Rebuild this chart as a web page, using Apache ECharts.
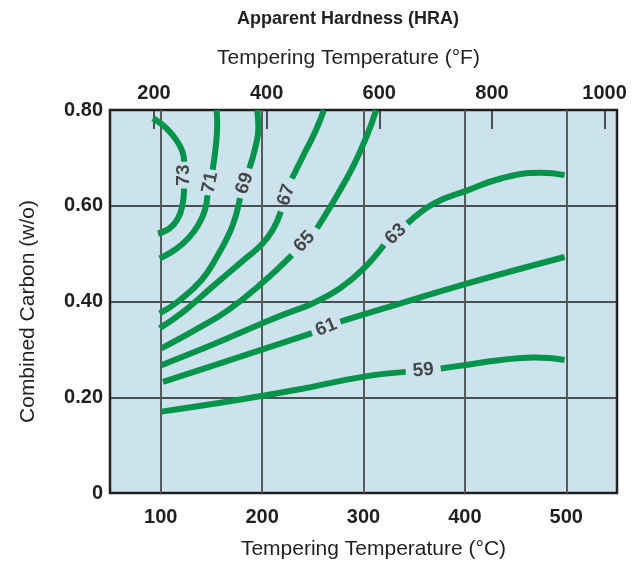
<!DOCTYPE html>
<html><head><meta charset="utf-8">
<script src="https://cdn.jsdelivr.net/npm/echarts@6/dist/echarts.min.js"></script>
<style>html,body{margin:0;padding:0;background:#fff}#c{width:640px;height:566px}</style>
</head><body><div id="c"></div>
<script>
// ---- data ----
const celsiusTicks = [100, 200, 300, 400, 500];
const fahrenheitTicks = [200, 400, 600, 800, 1000];
const hardnessLevels = [73, 71, 69, 67, 65, 63, 61, 59];
// each contour in two parts (before / after its inline label), [°C, carbon w/o]
const hra73a = [[97.3,0.542],[108.9,0.553],[117.1,0.574],[121.5,0.602],[123.1,0.636]];
const hra73b = [[123.1,0.692],[121.5,0.713],[115.5,0.737],[105.6,0.762],[92.4,0.783]];
const hra71a = [[99.0,0.490],[114.9,0.509],[127.7,0.533],[137.6,0.562],[143.6,0.591],[146.2,0.622]];
const hra71b = [[151.2,0.675],[154.5,0.727],[155.7,0.769],[155.2,0.800]];
const hra69a = [[99.0,0.375],[117.1,0.400],[140.3,0.445],[156.4,0.497],[168.3,0.545],[174.3,0.581],[178.2,0.616]];
const hra69b = [[187.4,0.678],[193.1,0.720],[196.3,0.762],[195.3,0.800]];
const hra67a = [[99.0,0.344],[123.8,0.381],[150.5,0.430],[183.2,0.489],[200.0,0.520],[210.9,0.551],[218.5,0.588]];
const hra67b = [[229.4,0.657],[240.9,0.706],[252.5,0.755],[261.0,0.800]];
const hra65a = [[100.7,0.302],[133.7,0.340],[166.6,0.382],[199.7,0.438],[229.4,0.497]];
const hra65b = [[254.2,0.553],[274.0,0.622],[290.4,0.685],[303.7,0.748],[312.5,0.800]];
const hra63a = [[100.7,0.267],[150.2,0.309],[199.7,0.354],[217.8,0.370],[250.8,0.397],[277.2,0.428],[300.3,0.469],[320.1,0.518]];
const hra63b = [[343.3,0.563],[369.6,0.605],[402.7,0.632],[435.6,0.657],[475.2,0.669],[498.3,0.664]];
const hra61a = [[102.3,0.232],[183.2,0.288],[217.8,0.312],[249.2,0.334]];
const hra61b = [[277.2,0.358],[300.3,0.373],[336.6,0.396],[399.3,0.436],[498.3,0.493]];
const hra59a = [[100.7,0.170],[166.6,0.191],[232.7,0.215],[300.3,0.243],[341.6,0.253]];
const hra59b = [[376.2,0.260],[399.3,0.267],[435.6,0.278],[468.6,0.283],[498.3,0.278]];

const curveParts = [[hra73a,hra73b],[hra71a,hra71b],[hra69a,hra69b],[hra67a,hra67b],
                    [hra65a,hra65b],[hra63a,hra63b],[hra61a,hra61b],[hra59a,hra59b]];

// ---- chart ----
const FONT = "'Liberation Sans', Arial, Helvetica, sans-serif";
const INK = '#231f20';
const GREEN = '#00934a';
const cToF = c => c * 9 / 5 + 32;
const X_MIN = 50, X_MAX = 550;

const chart = echarts.init(document.getElementById('c'), null, {renderer: 'canvas'});

const series = [];
curveParts.forEach(parts => parts.forEach(seg => series.push({
  type: 'line', data: seg, xAxisIndex: 0, yAxisIndex: 0,
  symbol: 'none', smooth: 0.45, silent: true, z: 3,
  lineStyle: {color: GREEN, width: 6, cap: 'butt'}
})));

const labelData = curveParts.map((parts, i) => {
  const p = parts[0][parts[0].length - 1], q = parts[1][0];
  return {value: [(p[0] + q[0]) / 2, (p[1] + q[1]) / 2, hardnessLevels[i]]};
});
series.push({
  type: 'scatter', data: labelData, xAxisIndex: 0, yAxisIndex: 0,
  symbolSize: 1, itemStyle: {color: 'rgba(0,0,0,0)'}, z: 5, silent: true,
  label: {show: true, position: 'inside', formatter: p => String(p.value[2]),
          fontFamily: FONT, fontWeight: 'bold', fontSize: 19, color: INK,
          textBorderWidth: 0}
});

const option = {
  animation: false,
  backgroundColor: '#ffffff',
  title: {
    text: 'Apparent Hardness (HRA)', left: 348, top: 10, textAlign: 'center', padding: 0,
    textStyle: {fontFamily: FONT, fontWeight: 'bold', fontSize: 18, color: INK}
  },
  grid: {
    left: 110, right: 23, top: 110, bottom: 73, show: true,
    backgroundColor: '#cce2ec', borderColor: INK, borderWidth: 2.5
  },
  xAxis: [{
    type: 'value', position: 'bottom', min: X_MIN, max: X_MAX,
    name: 'Tempering Temperature (°C)', nameLocation: 'middle', nameGap: 46,
    nameTextStyle: {fontFamily: FONT, fontSize: 21, color: INK, padding: [0, 0, 0, 20]},
    axisLine: {show: false},
    axisTick: {show: false, customValues: celsiusTicks},
    axisLabel: {customValues: celsiusTicks, formatter: v => String(v), fontFamily: FONT, fontWeight: 'bold', fontSize: 20, color: INK, margin: 14},
    splitLine: {show: true, lineStyle: {color: '#58595b', width: 2}}
  }, {
    type: 'value', position: 'top', min: cToF(X_MIN), max: cToF(X_MAX),
    name: 'Tempering Temperature (°F)', nameLocation: 'middle', nameGap: 41,
    nameTextStyle: {fontFamily: FONT, fontSize: 21, color: INK, padding: [0, 30, 0, 0]},
    axisLine: {show: false},
    axisTick: {show: true, inside: true, length: 19, customValues: fahrenheitTicks, lineStyle: {color: INK, width: 1.5}},
    axisLabel: {customValues: fahrenheitTicks, formatter: v => String(v), fontFamily: FONT, fontWeight: 'bold', fontSize: 20, color: INK, margin: 7},
    splitLine: {show: false}
  }],
  yAxis: {
    type: 'value', min: 0, max: 0.8, interval: 0.2,
    name: 'Combined Carbon (w/o)', nameLocation: 'middle', nameGap: 71, nameRotate: 90,
    nameTextStyle: {fontFamily: FONT, fontSize: 21, color: INK, padding: [0, 20, 0, 0]},
    axisLine: {show: false}, axisTick: {show: false},
    axisLabel: {formatter: v => v === 0 ? '0' : v.toFixed(2), fontFamily: FONT, fontWeight: 'bold', fontSize: 20, color: INK, margin: 7},
    splitLine: {show: true, lineStyle: {color: INK, width: 1.5}}
  },
  series: series
};
chart.setOption(option);

// orient each inline label along its curve
labelData.forEach((item, i) => {
  const parts = curveParts[i];
  const a = chart.convertToPixel({xAxisIndex: 0, yAxisIndex: 0}, parts[0][parts[0].length - 1]);
  const b = chart.convertToPixel({xAxisIndex: 0, yAxisIndex: 0}, parts[1][0]);
  let ang = Math.atan2(a[1] - b[1], b[0] - a[0]) * 180 / Math.PI;
  if (ang > 90) ang -= 180;
  if (ang <= -90) ang += 180;
  item.label = {rotate: ang};
});
chart.setOption(option);
</script></body></html>
